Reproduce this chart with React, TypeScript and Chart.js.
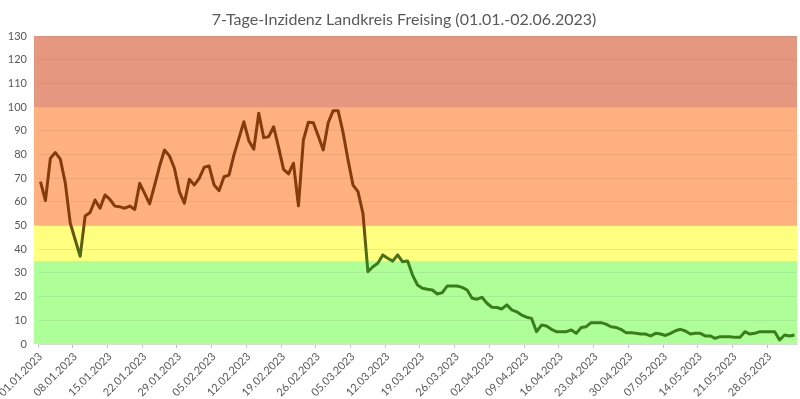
import { useEffect, useRef } from "react";
import { Chart, registerables } from "chart.js";

Chart.register(...registerables);

const TITLE = "7-Tage-Inzidenz Landkreis Freising (01.01.-02.06.2023)";

// Daily categories 01.01.2023 .. 02.06.2023 (153 days)
const START_YEAR = 2023;
const DAY_COUNT = 153;
const categories: string[] = [];
for (let i = 0; i < DAY_COUNT; i++) {
  const d = new Date(START_YEAR, 0, 1 + i);
  const dd = String(d.getDate()).padStart(2, "0");
  const mm = String(d.getMonth() + 1).padStart(2, "0");
  categories.push(`${dd}.${mm}.${d.getFullYear()}`);
}

const incidence: number[] = [
  68.5, 60.5, 78.4, 80.8, 78, 68, 51, 44, 37, 54,
  55.5, 60.8, 57.3, 62.9, 61, 58.2, 57.9, 57.3, 58.2, 56.8,
  67.8, 63.6, 59.1, 67, 75, 81.9, 79.4, 74.2, 64.3, 59.4,
  69.5, 67.1, 69.9, 74.6, 75.1, 67.1, 64.7, 70.6, 71.3, 79.8,
  86.8, 93.8, 85.8, 82.2, 97.4, 87.1, 87.5, 91.7, 83, 73.7,
  71.8, 76.3, 58.3, 86.1, 93.6, 93.4, 87.8, 81.9, 93.4, 98.5,
  98.5, 89.2, 77.7, 67.1, 64.3, 55.2, 30.5, 32.6, 34.1, 37.6,
  36.2, 35, 37.6, 34.7, 35, 29.1, 24.9, 23.5, 23.1, 22.8,
  21.1, 21.7, 24.5, 24.5, 24.5, 23.9, 22.8, 19.3, 18.9, 19.7,
  17.2, 15.5, 15.4, 14.8, 16.5, 14.4, 13.6, 12.2, 11.3, 10.8,
  5.2, 8, 7.6, 6.2, 5.2, 5.2, 5.2, 5.9, 4.5, 7,
  7.3, 9, 9, 9, 8.4, 7.3, 7, 6.2, 4.8, 4.8,
  4.5, 4.2, 4.2, 3.4, 4.5, 4.2, 3.6, 4.5, 5.6, 6.2,
  5.5, 4.2, 4.5, 4.5, 3.4, 3.4, 2.4, 3.1, 3.1, 3.1,
  2.8, 2.8, 5.2, 4.2, 4.5, 5.2, 5.2, 5.2, 5.2, 1.7,
  3.8, 3.4, 3.8,
];

const yTicks = { min: 0, max: 130, step: 10 };
const bandLimits: number[] = [0, 35, 50, 100, 130];
const bandColors: string[] = ["#AFFF98", "#FFFF80", "#FFB07F", "#E5987F"];
const LABEL_EVERY = 7;

const BROWN = "#843C0C";
const GREEN = "#3A7D1C";
const TEXT = "#595959";
const FONT = "Lato";

const bandsPlugin = {
  id: "bands",
  beforeDraw(chart: any) {
    const { ctx, chartArea, scales } = chart;
    const y = scales.y;
    ctx.save();
    for (let i = 0; i < bandColors.length; i++) {
      const top = y.getPixelForValue(bandLimits[i + 1]);
      const bot = y.getPixelForValue(bandLimits[i]);
      ctx.fillStyle = bandColors[i];
      ctx.fillRect(chartArea.left - 4, top, chartArea.right - chartArea.left + 4, bot - top);
    }
    ctx.restore();
  },
};

const titlePlugin = {
  id: "customTitle",
  afterDraw(chart: any) {
    const { ctx } = chart;
    ctx.save();
    ctx.fillStyle = TEXT;
    ctx.font = `16px ${FONT}`;
    ctx.textAlign = "center";
    ctx.textBaseline = "middle";
    ctx.fillText(TITLE, 404, 20);
    ctx.restore();
  },
};

export default function App() {
  const ref = useRef<HTMLCanvasElement>(null);

  useEffect(() => {
    document.body.style.margin = "0";
    const canvas = ref.current;
    if (!canvas) return;

    const lineColor = (ctx: any) => {
      const chart = ctx.chart;
      const { chartArea, scales } = chart;
      if (!chartArea || !scales.y) return BROWN;
      const y1 = scales.y.getPixelForValue(52);
      const y2 = scales.y.getPixelForValue(33);
      const g = chart.ctx.createLinearGradient(0, y1, 0, y2);
      g.addColorStop(0, BROWN);
      g.addColorStop(1, GREEN);
      return g;
    };

    const chart = new Chart(canvas, {
      type: "line",
      data: {
        labels: categories,
        datasets: [
          {
            data: incidence,
            borderColor: lineColor,
            borderWidth: 3,
            pointRadius: 0,
            tension: 0,
            fill: false,
            borderJoinStyle: "round",
          },
        ],
      },
      plugins: [bandsPlugin, titlePlugin],
      options: {
        animation: false,
        responsive: false,
        devicePixelRatio: 1,
        layout: { padding: { left: 0, top: 36, right: 3, bottom: 0 } },
        plugins: {
          legend: { display: false },
          title: { display: false },
          tooltip: { enabled: false },
        },
        scales: {
          x: {
            type: "category",
            offset: true,
            grid: {
              offset: true,
              drawOnChartArea: false,
              drawTicks: true,
              tickLength: 4,
              color: (c: any) => (c.index % LABEL_EVERY === 0 ? "#BFBFBF" : "rgba(0,0,0,0)"),
            },
            border: { display: true, color: "#D9D9D9" },
            ticks: {
              autoSkip: false,
              maxRotation: 45,
              minRotation: 45,
              padding: 2,
              color: TEXT,
              font: { family: FONT, size: 11 },
              callback: (_v: any, i: number) => (i % LABEL_EVERY === 0 ? categories[i] : ""),
            },
            afterFit: (s: any) => {
              s.height = 55;
              s.paddingLeft = 0;
              s.paddingRight = 0;
            },
          },
          y: {
            min: yTicks.min,
            max: yTicks.max,
            grid: {
              color: "rgba(110,110,110,0.13)",
              drawTicks: false,
            },
            border: { display: false },
            ticks: {
              stepSize: yTicks.step,
              padding: 11,
              color: TEXT,
              font: { family: FONT, size: 11 },
            },
            afterFit: (s: any) => {
              s.width = 38;
            },
          },
        },
      },
    });

    return () => chart.destroy();
  }, []);

  return <canvas ref={ref} width={800} height={399} style={{ display: "block" }} />;
}
